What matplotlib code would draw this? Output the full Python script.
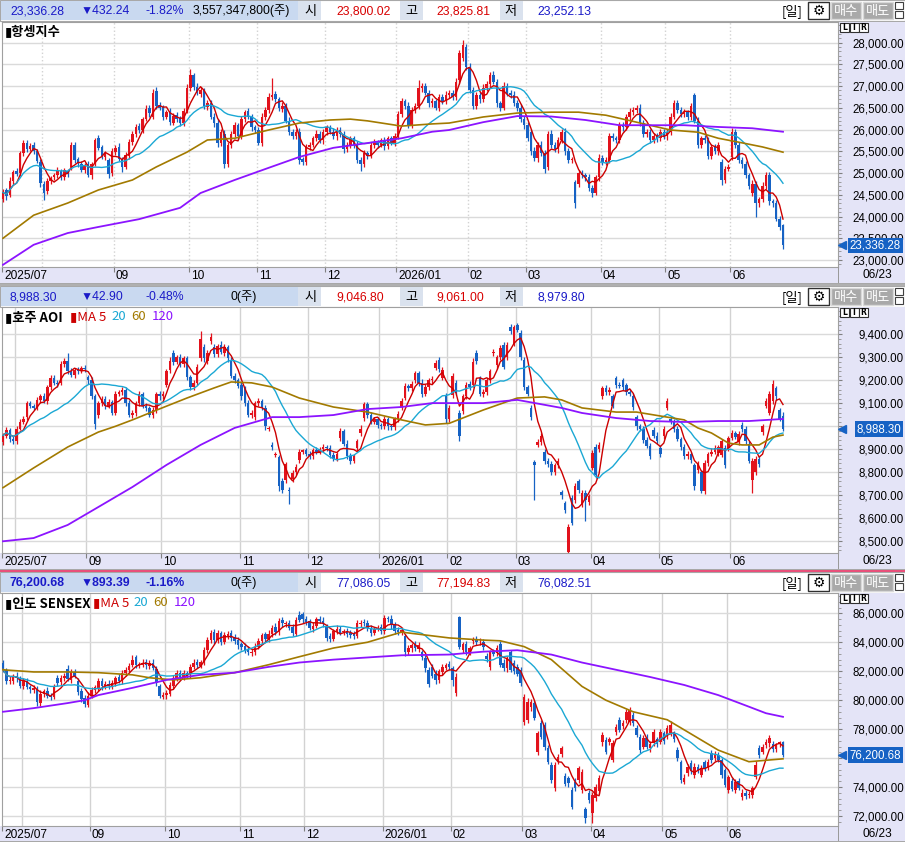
import numpy as np
import pandas as pd
import matplotlib
matplotlib.use("Agg")
import matplotlib.pyplot as plt
from matplotlib.patches import Rectangle
from matplotlib.transforms import blended_transform_factory, ScaledTranslation
from matplotlib.ticker import MultipleLocator

W, H = 905, 843
NUM = ["Liberation Sans", "Noto Sans CJK KR", "DejaVu Sans"]
KR = ["Noto Sans CJK KR", "DejaVu Sans"]
UP_C = "#E2121C"
DN_C = "#1662C4"
MA_C = ["#CC0000", "#1BA8D4", "#A27A00", "#8C14FF"]
LAV = "#E4E4F7"
TXT_BLUE = "#1A1AC8"
TXT_RED = "#D80000"
HEAD_FS = 8.8
TICK_FS = 8.3
DATE_FS = 8.6

month_labels = ["2025/07", "09", "10", "11", "12", "2026/01", "02", "03", "04", "05", "06"]

# ---------------- Hang Seng ----------------
hsi_close = [
    24550, 24480, 24820, 25020, 24980, 25450, 25680, 25560, 25620, 25510,
    25280, 24760, 24550, 24820, 24880, 24950, 25050, 24920, 25060, 24980,
    25650, 25300, 25220, 25080, 25180, 24960, 25200, 25750, 25580, 25400,
    25450, 24980, 25500, 25580, 25320, 25150, 25420, 25720, 25900, 26050,
    25980, 26250, 26480, 26380, 26850, 26550, 26500, 26300, 26400, 26180,
    26320, 26250, 26150, 26420, 26950, 27250, 26980, 26850, 26900, 26550,
    26600, 26300, 26150, 25700, 25950, 25200, 25650, 25900, 26100, 25850,
    26250, 26400, 26300, 26050, 26000, 25700, 26300, 26450, 26750, 26800,
    26700, 26500, 26550, 26200, 25950, 25850, 25950, 25300, 25250, 25600,
    25650, 25800, 25900, 25750, 25950, 26050, 25950, 25850, 26000, 25900,
    25550, 25650, 25800, 25650, 25300, 25200, 25450, 25400, 25650, 25700,
    25650, 25750, 25620, 25800, 25700, 25850, 26350, 26650, 26550, 26100,
    26450, 26550, 26950, 27000, 26850, 26600, 26650, 26500, 26750, 26650,
    26800, 26850, 26750, 27100, 27750, 27950, 27450, 26900, 26550, 26800,
    26700, 26950, 27050, 27250, 27100, 26600, 26500, 27000, 26850, 26800,
    26600, 26500, 26250, 26100, 25800, 25500, 25350, 25650, 25450, 25100,
    25900, 25650, 25550, 25750, 25950, 25500, 25300, 25300, 24300, 25000,
    24950, 24900, 24650, 24550, 24900, 25350, 25250, 25300, 25850, 25800,
    25750, 26100, 26050, 26300, 26400, 26450, 26500, 26150, 25900, 25950,
    25750, 25850, 25800, 25950, 25850, 25950, 26300, 26600, 26450, 26350,
    26400, 26300, 26550, 26200, 25650, 25800, 25750, 25400, 25600, 25500,
    25650, 24850, 25100, 25150, 25950, 25650, 25300, 25200, 24950, 24700,
    24750, 24300, 24400, 24700, 24950, 24350, 24300, 23950, 23768.52, 23336.28,
]
hsi_open = [
    24400, 24600, 24500, 24820, 25050, 25000, 25450, 25700, 25550, 25650,
    25500, 25250, 24750, 24580, 24820, 24900, 24950, 25050, 24900, 25050,
    25150, 25650, 25320, 25200, 25080, 25200, 24950, 25220, 25800, 25600,
    25380, 25300, 25000, 25480, 25600, 25330, 25150, 25400, 25720, 25900,
    26080, 25980, 26250, 26500, 26300, 26880, 26560, 26520, 26300, 26420,
    26160, 26330, 26260, 26150, 26420, 26950, 27250, 26980, 26820, 26900,
    26520, 26620, 26300, 26150, 25700, 25900, 25200, 25650, 25900, 26100,
    25850, 26250, 26420, 26300, 26050, 25980, 25700, 26300, 26450, 26750,
    26820, 26700, 26480, 26550, 26200, 25950, 25850, 25950, 25320, 25250,
    25600, 25650, 25800, 25900, 25750, 25950, 26050, 25950, 25850, 26000,
    25900, 25550, 25650, 25800, 25650, 25300, 25200, 25450, 25400, 25650,
    25700, 25650, 25750, 25620, 25800, 25700, 25850, 26350, 26650, 26550,
    26100, 26450, 26550, 26950, 27000, 26850, 26600, 26650, 26500, 26750,
    26650, 26800, 26850, 26750, 27140, 27650, 27900, 27450, 26900, 26550,
    26800, 26700, 26950, 27050, 27250, 27100, 26600, 26500, 27000, 26850,
    26800, 26600, 26500, 26250, 26100, 25950, 25500, 25350, 25650, 25450,
    25150, 25900, 25650, 25550, 25750, 25950, 25500, 25300, 24790, 24750,
    25000, 24950, 24900, 24650, 24550, 24900, 25350, 25250, 25300, 25850,
    25800, 25750, 26100, 26050, 26300, 26400, 26450, 26500, 26150, 25900,
    25950, 25750, 25850, 25800, 25950, 25850, 25950, 26300, 26600, 26450,
    26350, 26400, 26300, 26800, 26200, 25650, 25800, 25750, 25400, 25600,
    25500, 25250, 24850, 25100, 25370, 25950, 25650, 25300, 25200, 24950,
    24550, 24750, 24300, 24400, 24700, 24950, 24350, 24300, 23950, 23800.02,
]
hsi_wick_up = [
    80, 60, 90, 50, 70, 60, 80, 50, 70, 60,
    50, 80, 60, 70, 50, 60, 80, 40, 60, 50,
    60, 70, 50, 80, 60, 70, 50, 60, 80, 50,
    60, 40, 70, 60, 80, 50, 60, 70, 60, 80,
    60, 50, 90, 60, 80, 100, 70, 50, 60, 80,
    60, 70, 50, 80, 90, 150, 60, 80, 70, 60,
    80, 60, 70, 90, 60, 100, 70, 60, 80, 60,
    70, 60, 80, 50, 60, 90, 80, 60, 100, 390,
    70, 60, 80, 60, 90, 60, 70, 80, 60, 70,
    60, 50, 80, 60, 70, 60, 50, 80, 60, 70,
    60, 70, 50, 60, 80, 60, 70, 50, 60, 80,
    60, 50, 70, 60, 50, 60, 80, 70, 60, 90,
    70, 60, 190, 80, 70, 60, 80, 60, 70, 60,
    80, 70, 60, 90, 80, 110, 70, 80, 90, 60,
    70, 90, 60, 80, 100, 70, 60, 90, 70, 60,
    80, 70, 90, 60, 80, 70, 90, 60, 80, 70,
    60, 80, 70, 90, 60, 80, 70, 60, 60, 80,
    70, 60, 80, 70, 60, 90, 70, 60, 80, 70,
    60, 80, 70, 60, 90, 70, 60, 80, 70, 60,
    70, 60, 80, 60, 70, 60, 80, 90, 70, 60,
    80, 60, 70, 40, 90, 60, 70, 80, 60, 70,
    60, 80, 70, 60, 80, 70, 60, 80, 70, 60,
    80, 70, 60, 90, 70, 80, 60, 70, 60, 26,
]
hsi_wick_dn = [
    70, 90, 60, 80, 50, 70, 60, 80, 50, 70,
    60, 90, 170, 60, 80, 50, 60, 70, 50, 60,
    70, 60, 80, 50, 70, 60, 80, 50, 60, 70,
    80, 90, 60, 70, 50, 130, 60, 80, 70, 60,
    70, 60, 50, 80, 60, 70, 50, 80, 60, 70,
    60, 80, 70, 60, 50, 70, 80, 60, 70, 80,
    70, 60, 80, 90, 70, 80, 60, 70, 60, 90,
    60, 70, 60, 80, 70, 60, 80, 70, 60, 70,
    60, 80, 70, 60, 80, 70, 60, 100, 70, 60,
    80, 60, 70, 60, 80, 70, 60, 70, 80, 60,
    90, 60, 70, 80, 70, 150, 60, 70, 60, 80,
    70, 60, 80, 70, 60, 80, 70, 60, 80, 70,
    60, 80, 70, 90, 60, 80, 70, 60, 80, 70,
    60, 80, 70, 60, 90, 80, 70, 60, 80, 70,
    80, 60, 70, 80, 60, 90, 70, 60, 80, 70,
    60, 80, 70, 90, 60, 80, 70, 90, 60, 110,
    80, 70, 60, 80, 70, 90, 60, 80, 100, 70,
    60, 80, 70, 90, 60, 80, 70, 60, 80, 70,
    60, 70, 80, 60, 70, 60, 80, 70, 60, 80,
    70, 60, 80, 70, 60, 80, 70, 60, 80, 70,
    60, 80, 70, 60, 80, 70, 60, 80, 70, 60,
    80, 120, 70, 60, 80, 70, 60, 80, 70, 60,
    70, 300, 80, 70, 60, 80, 70, 60, 80, 84,
]
hsi_ma60_idx = [0, 9, 19, 28, 38, 45, 54, 60, 68, 78, 87, 96, 102, 107, 117, 126, 131,
                141, 151, 161, 169, 177, 186, 196, 204, 210, 216, 223, 229]
hsi_ma60 = [23500, 24030, 24310, 24610, 24840, 25140, 25480, 25760, 25800, 25990, 26150,
            26220, 26240, 26200, 26080, 26130, 26150, 26290, 26380, 26400, 26400, 26330,
            26170, 25990, 25940, 25800, 25710, 25600, 25480]
hsi_ma120_idx = [0, 9, 19, 28, 40, 52, 58, 68, 78, 87, 97, 107, 117, 126, 131, 141, 151,
                 161, 171, 181, 190, 200, 210, 220, 229]
hsi_ma120 = [22890, 23350, 23620, 23760, 23940, 24200, 24540, 24840, 25120, 25370, 25580,
             25690, 25800, 25950, 25990, 26170, 26310, 26300, 26220, 26100, 26100, 26100,
             26060, 26030, 25950]
hsi_months = [12, 33, 55, 75, 95, 116, 137, 154, 176, 195, 214]
hsi_ticks = [23000, 23500, 24000, 24500, 25000, 25500, 26000, 26500, 27000, 27500, 28000]
hsi_hidden = []

# ---------------- Australia AOI ----------------
aoi_close = [
    8960, 8985, 8945, 8935, 8990, 9020, 9030, 9100, 9090, 9080,
    9115, 9130, 9110, 9170, 9210, 9190, 9185, 9270, 9285, 9240,
    9225, 9245, 9240, 9255, 9250, 9200, 9130, 9010, 9100, 9120,
    9090, 9105, 9060, 9140, 9150, 9160, 9100, 9050, 9060, 9100,
    9140, 9090, 9080, 9050, 9070, 9140, 9130, 9140, 9240, 9285,
    9280, 9300, 9270, 9295, 9215, 9170, 9190, 9260, 9380, 9295,
    9320, 9390, 9315, 9350, 9325, 9345, 9295, 9220, 9200, 9175,
    9130, 9100, 9050, 9060, 9100, 9110, 9085, 9000, 8990, 8910,
    8880, 8740, 8725, 8835, 8720, 8795, 8825, 8890, 8895, 8880,
    8870, 8895, 8890, 8900, 8910, 8905, 8875, 8860, 8880, 8980,
    8925, 8870, 8850, 8870, 8935, 8990, 9095, 9050, 9020, 9030,
    9005, 9000, 9030, 9000, 8995, 9030, 9055, 9110, 9175, 9165,
    9185, 9230, 9190, 9140, 9170, 9200, 9205, 9275, 9250, 9245,
    9030, 9080, 9220, 9150, 8960, 9130, 9180, 9170, 9280, 9285,
    9140, 9150, 9200, 9240, 9325, 9300, 9340, 9260, 9355, 9415,
    9430, 9420, 9300, 9170, 9140, 9040, 8830, 8930, 8960, 8850,
    8835, 8800, 8830, 8850, 8700, 8635, 8560, 8580, 8740, 8725,
    8710, 8680, 8695, 8885, 8790, 8920, 9165, 9150, 9160, 9090,
    9180, 9175, 9170, 9150, 9140, 9085, 9000, 8990, 8940, 8915,
    8870, 8960, 8935, 8880, 8990, 9110, 9020, 8990, 8945, 8910,
    8870, 8880, 8855, 8740, 8835, 8720, 8840, 8880, 8890, 8905,
    8910, 8935, 8830, 8950, 8970, 8955, 8965, 8990, 8935, 8850,
    8850, 8860, 8835, 9000, 9110, 9140, 9185, 9130, 9031.2, 8988.3,
]
aoi_open = [
    8930, 8960, 8985, 8945, 8935, 8990, 9020, 9040, 9100, 9090,
    9080, 9115, 9130, 9110, 9170, 9210, 9190, 9190, 9270, 9285,
    9240, 9225, 9245, 9240, 9255, 9215, 9200, 9130, 9050, 9100,
    9120, 9090, 9105, 9060, 9140, 9150, 9160, 9100, 9050, 9060,
    9100, 9140, 9090, 9080, 9050, 9070, 9140, 9130, 9180, 9245,
    9320, 9280, 9300, 9270, 9295, 9215, 9170, 9190, 9295, 9345,
    9285, 9370, 9345, 9315, 9355, 9320, 9345, 9290, 9220, 9200,
    9180, 9165, 9100, 9050, 9040, 9100, 9110, 9080, 8990, 8920,
    8875, 8865, 8760, 8765, 8725, 8770, 8800, 8855, 8890, 8895,
    8880, 8870, 8895, 8890, 8900, 8910, 8905, 8875, 8860, 8950,
    8980, 8925, 8870, 8850, 8905, 8970, 9035, 9095, 9050, 9020,
    9030, 9005, 9000, 9030, 9000, 8995, 9030, 9085, 9125, 9175,
    9165, 9200, 9230, 9190, 9140, 9170, 9200, 9255, 9290, 9210,
    9135, 9030, 9135, 9190, 9060, 9065, 9130, 9185, 9180, 9320,
    9210, 9140, 9150, 9200, 9320, 9265, 9300, 9355, 9300, 9430,
    9360, 9440, 9405, 9290, 9170, 9080, 8845, 8920, 8930, 8890,
    8850, 8835, 8800, 8830, 8715, 8665, 8455, 8690, 8680, 8760,
    8660, 8710, 8670, 8820, 8910, 8900, 9130, 9165, 9150, 9130,
    9210, 9180, 9200, 9180, 9150, 9130, 9040, 9000, 8990, 8940,
    8915, 8985, 8960, 8905, 8960, 9080, 9030, 9020, 8990, 8945,
    8910, 8870, 8880, 8830, 8810, 8800, 8720, 8840, 8880, 8890,
    8885, 8875, 8905, 8905, 8950, 8970, 8930, 9005, 8990, 8925,
    8765, 8800, 8860, 8975, 9090, 9060, 9110, 9165, 9070, 9046.8,
]
aoi_wick_up = [
    10, 12, 8, 15, 10, 12, 14, 10, 12, 8,
    12, 10, 14, 10, 12, 15, 10, 12, 10, 35,
    12, 10, 14, 8, 12, 10, 15, 12, 10, 14,
    10, 12, 8, 14, 10, 12, 10, 15, 12, 10,
    14, 10, 12, 8, 12, 10, 14, 12, 10, 15,
    12, 10, 14, 10, 12, 8, 12, 10, 35, 12,
    10, 14, 12, 10, 15, 12, 10, 12, 14, 10,
    12, 10, 14, 12, 10, 12, 8, 14, 10, 12,
    10, 12, 14, 10, 12, 15, 10, 12, 8, 10,
    12, 10, 14, 10, 12, 10, 14, 12, 10, 12,
    10, 14, 12, 10, 12, 15, 10, 12, 14, 10,
    12, 10, 14, 12, 10, 12, 10, 14, 12, 10,
    14, 12, 10, 15, 12, 10, 12, 14, 10, 12,
    10, 12, 14, 10, 12, 10, 14, 12, 15, 12,
    10, 14, 12, 10, 12, 10, 14, 12, 10, 15,
    12, 10, 14, 12, 10, 12, 10, 14, 12, 10,
    12, 14, 10, 12, 10, 12, 14, 10, 12, 10,
    14, 12, 10, 12, 14, 10, 12, 14, 10, 12,
    10, 14, 12, 10, 12, 14, 10, 12, 10, 14,
    12, 10, 14, 12, 10, 12, 14, 10, 12, 10,
    14, 12, 10, 12, 14, 10, 12, 10, 14, 12,
    10, 12, 14, 10, 12, 10, 14, 12, 10, 12,
    14, 10, 12, 10, 14, 12, 15, 12, 10, 14.2,
]
aoi_wick_dn = [
    12, 10, 14, 10, 12, 8, 10, 14, 12, 10,
    10, 12, 10, 14, 12, 10, 12, 10, 14, 12,
    10, 14, 12, 10, 12, 14, 10, 20, 12, 10,
    14, 12, 10, 12, 10, 14, 12, 10, 12, 14,
    10, 12, 14, 10, 12, 10, 14, 12, 10, 12,
    14, 10, 12, 10, 14, 12, 10, 12, 10, 14,
    12, 10, 14, 12, 10, 12, 14, 10, 12, 10,
    14, 12, 10, 12, 14, 10, 12, 14, 10, 12,
    10, 20, 14, 10, 60, 12, 10, 14, 12, 10,
    12, 14, 10, 12, 10, 14, 12, 10, 12, 14,
    10, 12, 14, 10, 12, 10, 14, 12, 10, 12,
    14, 10, 12, 14, 10, 12, 10, 14, 12, 10,
    12, 10, 14, 12, 10, 12, 14, 10, 12, 10,
    14, 12, 10, 12, 25, 10, 12, 14, 10, 12,
    10, 12, 14, 10, 12, 14, 10, 12, 10, 14,
    12, 10, 12, 14, 10, 12, 150, 12, 10, 12,
    14, 10, 12, 10, 14, 12, 15, 10, 12, 14,
    10, 90, 12, 10, 14, 12, 10, 12, 14, 10,
    12, 10, 14, 12, 10, 12, 14, 10, 12, 10,
    14, 12, 10, 12, 14, 10, 12, 14, 10, 12,
    10, 12, 14, 15, 12, 10, 14, 12, 10, 12,
    14, 10, 12, 14, 10, 12, 10, 14, 12, 10,
    55, 12, 10, 14, 12, 10, 12, 14, 10, 8.5,
]
aoi_ma60_idx = [0, 9, 19, 28, 33, 38, 45, 54, 62, 67, 73, 79, 87, 97, 107, 117, 124, 131,
                141, 151, 159, 164, 170, 180, 186, 195, 200, 204, 208, 213, 217, 222, 226, 229]
aoi_ma60 = [8733, 8819, 8910, 8975, 9000, 9028, 9070, 9123, 9167, 9193, 9189, 9171, 9123,
            9084, 9062, 9028, 9006, 9013, 9071, 9123, 9128, 9115, 9080, 9062, 9062, 9040,
            9028, 8993, 8971, 8927, 8919, 8919, 8953, 8962]
aoi_ma120_idx = [0, 9, 19, 28, 38, 48, 58, 68, 79, 87, 97, 107, 117, 126, 131, 141, 151,
                 164, 170, 180, 190, 200, 210, 219, 229]
aoi_ma120 = [8500, 8514, 8571, 8649, 8736, 8832, 8919, 8993, 9040, 9040, 9049, 9075, 9084,
             9101, 9101, 9101, 9115, 9080, 9058, 9036, 9023, 9019, 9023, 9023, 9032]
aoi_months = [4, 25, 47, 70, 90, 111, 131, 151, 173, 193, 214]
aoi_ticks = [8500, 8600, 8700, 8800, 8900, 9000, 9100, 9200, 9300, 9400]
aoi_hidden = [9000]

# ---------------- India SENSEX ----------------
sensex_close = [
    82150, 81350, 81400, 81650, 81500, 81000, 81300, 80900, 80750, 80850,
    79850, 80450, 80600, 80300, 80200, 80950, 81200, 81550, 81700, 81450,
    81950, 81700, 80550, 80100, 79750, 80300, 80700, 80900, 81300, 80950,
    81100, 80950, 81200, 81550, 81350, 81900, 82100, 82350, 82800, 82450,
    82500, 82600, 82400, 82550, 82200, 81200, 80300, 80350, 80500, 81050,
    81500, 81900, 81600, 81850, 81700, 82300, 82600, 82400, 82650, 83450,
    84150, 84650, 84150, 84650, 84000, 84500, 84600, 84300, 84100, 83800,
    83700, 83450, 83300, 83350, 83700, 84100, 84500, 84200, 84600, 85000,
    84700, 85500, 85300, 85300, 85000, 84650, 85550, 85550, 85600, 85400,
    85000, 85150, 85600, 85500, 85300, 84300, 84200, 84800, 84950, 84650,
    84700, 84600, 84500, 84450, 85300, 85350, 85300, 85000, 84650, 84900,
    85000, 84800, 85650, 85600, 85200, 84800, 84700, 84850, 83300, 83600,
    83800, 83600, 83800, 82950, 82200, 81100, 81700, 81400, 82000, 82300,
    82450, 82300, 81400, 81600, 83700, 83850, 83300, 83600, 84150, 84000,
    84050, 83700, 82850, 83300, 83200, 83600, 82450, 82200, 82900, 82100,
    82000, 81800, 81200, 80200, 79900, 79900, 78800, 77700, 77450, 76800,
    75750, 74500, 75550, 76100, 76700, 74200, 74250, 72650, 73950, 75300,
    75050, 71850, 73100, 73450, 74000, 74600, 77600, 76450, 77300, 77050,
    78150, 77950, 78400, 79200, 79300, 78400, 77600, 76550, 77400, 76800,
    77000, 77800, 77000, 77800, 77200, 78100, 78300, 77350, 76000, 74500,
    74650, 75400, 75100, 75400, 75200, 75350, 75300, 75700, 75900, 76300,
    75900, 74850, 74150, 74700, 73900, 74350, 73950, 73600, 73400, 73500,
    73950, 75550, 76200, 76750, 77100, 77400, 76600, 76900, 77094.07, 76200.68,
]
sensex_open = [
    82600, 82100, 81300, 81350, 81700, 81500, 80950, 81300, 80900, 80700,
    80800, 79800, 80400, 80650, 80300, 80250, 81500, 81250, 81500, 82150,
    81400, 81950, 81350, 80600, 80150, 79700, 80300, 80700, 80850, 81350,
    80950, 81150, 80900, 81200, 81600, 81400, 81850, 82100, 82450, 82950,
    82400, 82450, 82650, 82350, 82600, 82150, 81000, 80250, 80350, 80450,
    81000, 81450, 81900, 81600, 81850, 81800, 82300, 82650, 82350, 82650,
    83450, 84150, 84700, 84150, 84650, 84000, 84450, 84650, 84350, 84150,
    83850, 83750, 83500, 83250, 83350, 83700, 84100, 84550, 84200, 84600,
    85050, 84700, 85550, 85250, 85300, 85050, 84600, 85900, 85950, 85600,
    85450, 84950, 85150, 85600, 85500, 85050, 84450, 84250, 84800, 84950,
    84700, 84750, 84650, 84600, 84450, 85250, 85400, 85300, 85000, 84650,
    84950, 85050, 84800, 85650, 85600, 85200, 84850, 84650, 84400, 83350,
    83600, 83850, 83550, 83350, 82900, 82100, 82300, 81800, 81400, 81950,
    82250, 82500, 82200, 80500, 85750, 83500, 83900, 83250, 84100, 84200,
    84000, 84050, 83050, 82300, 83300, 83250, 83900, 82600, 82200, 83300,
    82600, 82300, 82100, 78500, 78600, 79500, 79800, 76400, 78400, 78300,
    76700, 75500, 73950, 75800, 76300, 74750, 74600, 73800, 74350, 74500,
    73800, 72500, 73600, 72200, 73250, 73700, 77100, 77250, 77100, 75900,
    77800, 78650, 78200, 78650, 78500, 79000, 78100, 77450, 76800, 77400,
    76700, 77050, 77300, 77100, 77700, 77500, 77700, 77700, 76550, 75750,
    74350, 74950, 75650, 74850, 75400, 74850, 75700, 75300, 76350, 76000,
    76200, 75850, 75150, 73800, 74400, 73800, 74400, 73300, 73600, 73450,
    73450, 74700, 76700, 76450, 76900, 77050, 77000, 76600, 76950, 77086.05,
]
sensex_wick_up = [
    200, 150, 250, 180, 220, 150, 200, 250, 180, 200,
    150, 220, 180, 250, 200, 150, 220, 180, 200, 250,
    180, 200, 150, 220, 180, 250, 200, 150, 220, 180,
    200, 250, 180, 150, 220, 200, 180, 250, 300, 200,
    150, 220, 180, 200, 250, 180, 150, 200, 220, 180,
    250, 200, 150, 220, 180, 200, 250, 180, 150, 220,
    200, 180, 250, 200, 150, 220, 180, 200, 250, 180,
    150, 200, 220, 180, 250, 200, 150, 180, 220, 200,
    250, 180, 200, 150, 220, 180, 200, 250, 150, 200,
    180, 220, 150, 200, 250, 180, 200, 150, 220, 180,
    200, 250, 180, 150, 220, 200, 180, 250, 200, 150,
    220, 180, 200, 150, 250, 180, 200, 220, 150, 200,
    180, 250, 200, 150, 220, 180, 200, 250, 180, 200,
    150, 220, 180, 250, 50, 200, 180, 150, 220, 200,
    250, 180, 200, 150, 220, 180, 200, 250, 180, 200,
    150, 220, 180, 200, 250, 180, 200, 150, 220, 180,
    200, 250, 180, 200, 150, 220, 180, 200, 250, 180,
    200, 150, 220, 180, 200, 250, 180, 200, 150, 220,
    180, 200, 250, 180, 200, 150, 220, 180, 200, 250,
    180, 200, 150, 220, 180, 200, 250, 180, 200, 150,
    220, 180, 200, 250, 180, 200, 150, 220, 180, 200,
    250, 180, 200, 150, 220, 180, 200, 250, 180, 200,
    150, 220, 180, 200, 250, 180, 200, 150, 100, 108.78,
]
sensex_wick_dn = [
    180, 220, 150, 200, 250, 180, 200, 150, 220, 180,
    250, 200, 180, 150, 220, 200, 250, 180, 200, 150,
    200, 180, 220, 250, 200, 150, 180, 220, 200, 250,
    180, 200, 150, 220, 180, 250, 200, 180, 150, 220,
    200, 180, 250, 200, 150, 220, 180, 200, 250, 180,
    200, 150, 220, 180, 200, 250, 180, 200, 150, 220,
    180, 200, 250, 180, 200, 150, 220, 180, 200, 250,
    200, 180, 150, 220, 200, 180, 250, 200, 150, 220,
    180, 200, 250, 180, 150, 220, 200, 180, 250, 200,
    150, 220, 180, 200, 250, 180, 200, 150, 220, 180,
    200, 250, 180, 200, 150, 220, 180, 200, 250, 180,
    150, 200, 220, 180, 250, 200, 180, 150, 220, 200,
    250, 180, 200, 150, 220, 180, 200, 250, 180, 200,
    180, 220, 400, 200, 180, 250, 200, 150, 220, 180,
    200, 250, 180, 200, 150, 220, 180, 200, 250, 180,
    200, 150, 220, 180, 200, 250, 180, 200, 150, 220,
    180, 200, 250, 180, 200, 150, 220, 180, 200, 250,
    180, 300, 200, 650, 180, 200, 250, 180, 200, 150,
    220, 180, 200, 250, 180, 200, 150, 220, 180, 200,
    250, 180, 200, 150, 220, 180, 200, 250, 180, 200,
    150, 220, 180, 200, 250, 180, 200, 150, 220, 180,
    200, 250, 180, 200, 150, 220, 180, 200, 250, 180,
    200, 150, 220, 180, 200, 250, 180, 200, 150, 118.17,
]
sensex_ma60_idx = [0, 9, 19, 28, 38, 43, 50, 58, 68, 78, 87, 97, 107, 117, 131, 141, 146,
                   153, 161, 170, 177, 185, 195, 200, 210, 219, 229]
sensex_ma60 = [82100, 81950, 81950, 81900, 81750, 81550, 81400, 81550, 81900, 82450, 83000,
               83600, 84000, 84700, 84300, 84150, 84100, 83700, 82800, 80950, 80000, 79200,
               78650, 77950, 76550, 75750, 75950]
sensex_ma120_idx = [0, 9, 19, 24, 28, 38, 48, 58, 68, 78, 87, 97, 107, 117, 131, 141, 151,
                    161, 170, 180, 190, 200, 210, 219, 224, 229]
sensex_ma120 = [79200, 79450, 79800, 80000, 80350, 80850, 81400, 81750, 81900, 82300, 82600,
                82800, 82950, 83100, 83150, 83350, 83450, 83150, 82600, 82100, 81600, 81050,
                80350, 79550, 79100, 78850]
sensex_months = [6, 26, 48, 70, 89, 112, 132, 153, 173, 194, 213]
sensex_ticks = [72000, 74000, 76000, 78000, 80000, 82000, 84000, 86000]
sensex_hidden = [76000]

fig = plt.figure(figsize=(W / 100, H / 100), dpi=100)
fig.patch.set_facecolor("white")


def fx(x):
    return x / W


def fy(y):
    return 1 - y / H


def rect(x, y, w, h, fc, ec="none", lw=0, z=-1):
    fig.patches.append(Rectangle((fx(x), fy(y + h)), w / W, h / H, transform=fig.transFigure,
                                 fc=fc, ec=ec, lw=lw, zorder=z))


def text(x, y, s, color="black", size=HEAD_FS, family=NUM, ha="left", weight="normal"):
    fig.text(fx(x), fy(y), s, color=color, fontsize=size, family=family, ha=ha,
             va="center", weight=weight)


def header(y0, quote, vol, vol_x, o_txt, o_col, h_txt, l_txt, bold):
    rect(0, y0, W, 21, "white", "#A8A8A8", 0.8)
    rect(1, y0 + 1, 297, 19, "#C9D9F0")
    for x in (298, 400, 500):
        rect(x, y0 + 1, 23, 19, "#DAE2EE")
    yc = y0 + 11
    wt = "bold" if bold else "normal"
    text(10, yc, quote[0], TXT_BLUE, weight=wt)
    text(81, yc, quote[1], TXT_BLUE, weight=wt)
    text(145, yc, quote[2], TXT_BLUE, weight=wt)
    text(vol_x, yc, vol)
    text(310, yc, "시", family=KR, ha="center", size=9.5)
    text(336, yc, o_txt, o_col)
    text(411, yc, "고", family=KR, ha="center", size=9.5)
    text(436, yc, h_txt, TXT_RED)
    text(511, yc, "저", family=KR, ha="center", size=9.5)
    text(537, yc, l_txt, TXT_BLUE)
    text(792, yc, "[일]", family=KR, ha="center", size=9.5)
    rect(808, y0 + 2, 21, 17, "white", "#303030", 1, z=1)
    text(818.5, yc, "⚙", size=10, family=["DejaVu Sans"], ha="center")
    for bx, lab in ((831, "매수"), (863, "매도")):
        rect(bx, y0 + 2, 30, 17, "#A9A9A9", "#D8D8D8", 1, z=1)
        text(bx + 15, yc, lab, "white", family=KR, ha="center", size=9.5)
    rect(895, y0 + 2, 8, 7, "white", "#404040", 0.8, z=1)
    rect(895, y0 + 11, 8, 7, "white", "#404040", 0.8, z=1)


def panel(top, bot, dbot, o, c, wu, wd, ma60, ma120, months, ticks, hidden, minor, ylim,
          vls, title):
    rect(838, top, W - 838, dbot - top, LAV)
    rect(0, bot, W, dbot - bot, LAV)
    rect(838, bot, 1, dbot - bot, "#9A9A9A", z=1)
    rect(0, dbot - 1, W, 1, "#A8A8A8", z=1)
    ax = fig.add_axes([fx(2), fy(bot), (838 - 2) / W, (bot - top) / H])
    ax.set_xlim(-0.29, 245.15)
    ax.set_ylim(*ylim)
    for sp in ax.spines.values():
        sp.set_color("#A0A0A0")

    # right-hand price scale; labels hidden behind the last-price tag are left blank
    ax.yaxis.tick_right()
    ax.set_yticks(ticks)
    ax.set_yticklabels(["" if v in hidden else f"{v:,.2f}" for v in ticks],
                       family=NUM, fontsize=TICK_FS)
    for lab in ax.get_yticklabels():
        lab.set_horizontalalignment("right")
    ax.tick_params(axis="y", which="major", length=3, color="#808080", pad=44.5)
    ax.yaxis.set_minor_locator(MultipleLocator(minor))
    ax.tick_params(axis="y", which="minor", length=2, color="#909090")
    ax.grid(axis="y", color="#DADADA", lw=1, zorder=0)

    for m in months:
        ax.axvline(m - 0.5, color="#D2D2D2", lw=1, ls=vls, zorder=0)
    pos = [-0.29] + [m - 0.5 for m in months[1:]]
    ax.set_xticks(pos)
    ax.set_xticklabels(month_labels, family=NUM, fontsize=DATE_FS, ha="left")
    ax.tick_params(axis="x", length=3.5, color="#808080", pad=-1.6)
    off = ScaledTranslation(2 / 100, 0, fig.dpi_scale_trans)
    for lab in ax.get_xticklabels():
        lab.set_transform(lab.get_transform() + off)

    o = np.asarray(o, float)
    c = np.asarray(c, float)
    x = np.arange(len(c))
    hi = np.maximum(o, c) + np.asarray(wu, float)
    lo = np.minimum(o, c) - np.asarray(wd, float)
    col = np.where(c >= o, UP_C, DN_C)
    ax.vlines(x, lo, hi, colors=col, lw=0.9, zorder=3)
    minb = (ylim[1] - ylim[0]) * 0.003
    ax.bar(x, np.maximum(np.abs(c - o), minb), bottom=np.minimum(o, c), width=0.74,
           color=col, lw=0, zorder=3)

    s = pd.Series(c)
    ax.plot(x, s.rolling(5, min_periods=1).mean(), color=MA_C[0], lw=1.0, zorder=4)
    ax.plot(x, s.rolling(20, min_periods=1).mean(), color=MA_C[1], lw=1.0, zorder=4)
    ax.plot(ma60[0], ma60[1], color=MA_C[2], lw=1.2, zorder=4)
    ax.plot(ma120[0], ma120[1], color=MA_C[3], lw=1.3, zorder=4)

    trans = blended_transform_factory(ax.transAxes, ax.transData)
    last = c[-1]
    ax.text(1 + 63 / 836, last, f"{last:,.2f}", transform=trans, ha="right", va="center",
            color="white", family=NUM, fontsize=TICK_FS, clip_on=False, zorder=10,
            bbox=dict(boxstyle="square,pad=0.15", fc=DN_C, ec="none"))
    ax.plot([1 + 3.5 / 836], [last], marker="<", ms=6, color=DN_C, transform=trans,
            clip_on=False, zorder=10)

    text(862, (bot + dbot) / 2, "06/23", size=DATE_FS)
    for k, ch in enumerate("LIR"):
        rect(840 + k * 9.5, top + 1, 9, 9, "white", "#303030", 0.8, z=1)
        text(840 + k * 9.5 + 4.5, top + 5.5, ch, size=5.5, family=["DejaVu Sans"],
             ha="center", weight="bold")
    for tx, s_, tc, tw in title:
        text(tx, top + 10, s_, tc, size=9.5, family=KR, weight=tw)
    return ax


ma_title = [("▮MA 5", MA_C[0]), ("20", MA_C[1]), ("60", MA_C[2]), ("120", MA_C[3])]

header(0, ["23,336.28", "▼432.24", "-1.82%"], "3,557,347,800(주)", 193,
       "23,800.02", TXT_RED, "23,825.81", "23,252.13", False)
panel(22, 267, 284, hsi_open, hsi_close, hsi_wick_up, hsi_wick_dn,
      (hsi_ma60_idx, hsi_ma60), (hsi_ma120_idx, hsi_ma120), hsi_months, hsi_ticks,
      hsi_hidden, 100, (22839, 28474), ":", [(5, "▮항셍지수", "black", "bold")])
rect(0, 284, W, 2, "#B0B0B0", z=1)

header(286, ["8,988.30", "▼42.90", "-0.48%"], "0(주)", 230,
       "9,046.80", TXT_RED, "9,061.00", "8,979.80", False)
panel(307, 553, 570, aoi_open, aoi_close, aoi_wick_up, aoi_wick_dn,
      (aoi_ma60_idx, aoi_ma60), (aoi_ma120_idx, aoi_ma120), aoi_months, aoi_ticks,
      aoi_hidden, 20, (8449, 9519), "-",
      [(5, "▮호주 AOI", "black", "bold")] +
      [(x, s_, cc, "normal") for x, (s_, cc) in zip([70, 111, 131, 152], ma_title)])
rect(0, 570, W, 1.6, "#E8507A", z=1)

header(572, ["76,200.68", "▼893.39", "-1.16%"], "0(주)", 230,
       "77,086.05", TXT_BLUE, "77,194.83", "76,082.51", True)
panel(593, 826, 842, sensex_open, sensex_close, sensex_wick_up, sensex_wick_dn,
      (sensex_ma60_idx, sensex_ma60), (sensex_ma120_idx, sensex_ma120), sensex_months,
      sensex_ticks, sensex_hidden, 400, (71311, 87402), "-",
      [(5, "▮인도 SENSEX", "black", "bold")] +
      [(x, s_, cc, "normal") for x, (s_, cc) in zip([93, 133, 153, 174], ma_title)])

fig.savefig("out.png", dpi=100)
